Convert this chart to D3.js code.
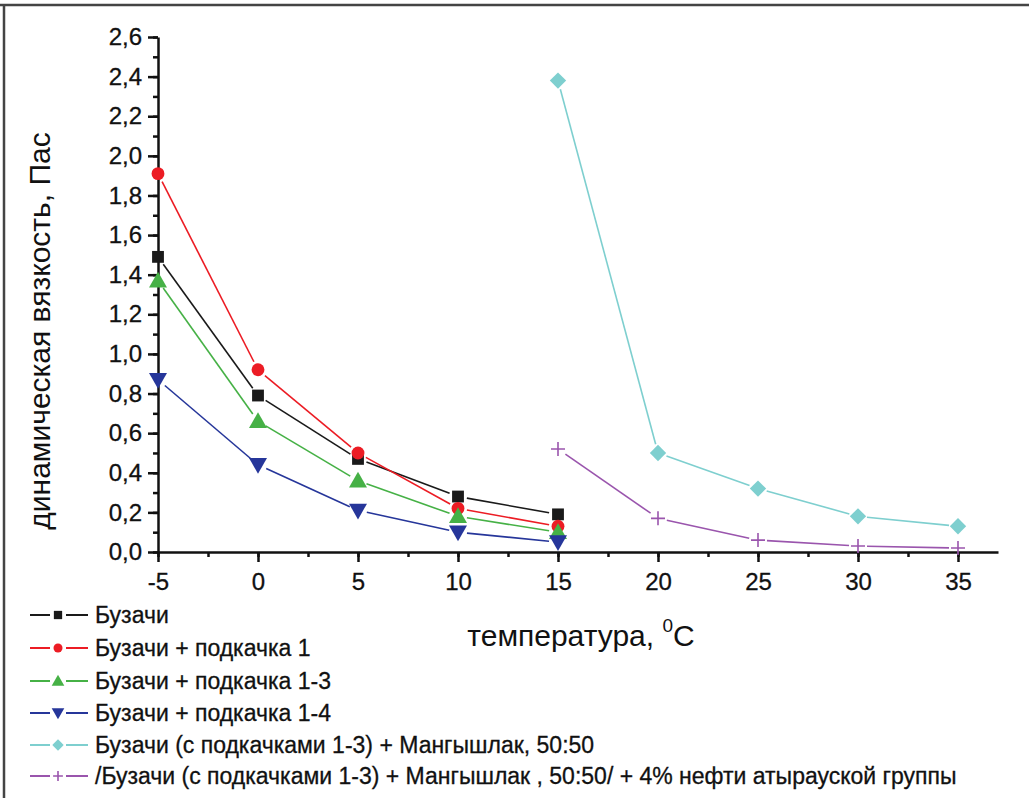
<!DOCTYPE html>
<html>
<head>
<meta charset="utf-8">
<script src="https://cdn.jsdelivr.net/npm/d3@7"></script>
<style>
  body { margin: 0; background: #fff; }
  svg { display: block; font-family: Arial, 'Liberation Sans', sans-serif; }
</style>
</head>
<body>
<div id="chart"></div>
<script>
const temps = [-5, 0, 5, 10, 15];
const tempsHot = [15, 20, 25, 30, 35];
const buzachi = [1.49, 0.79, 0.47, 0.28, 0.19];
const pump1 = [1.91, 0.92, 0.50, 0.22, 0.13];
const pump13 = [1.37, 0.66, 0.36, 0.18, 0.10];
const pump14 = [0.87, 0.44, 0.21, 0.10, 0.05];
const mangyshlak = [2.38, 0.50, 0.32, 0.18, 0.13];
const atyrau = [0.52, 0.17, 0.06, 0.03, 0.02];
const xTicks = [-5, 0, 5, 10, 15, 20, 25, 30, 35];
const yTicks = [0, 0.2, 0.4, 0.6, 0.8, 1.0, 1.2, 1.4, 1.6, 1.8, 2.0, 2.2, 2.4, 2.6];

const series = [
  {name: 'Бузачи', x: temps, y: buzachi, color: '#1a1a1a', sym: d3.symbolSquare, size: 140},
  {name: 'Бузачи + подкачка 1', x: temps, y: pump1, color: '#ec1c24', sym: d3.symbolCircle, size: 130},
  {name: 'Бузачи + подкачка 1-3', x: temps, y: pump13, color: '#46b146', sym: 'up', size: 160},
  {name: 'Бузачи + подкачка 1-4', x: temps, y: pump14, color: '#26369a', sym: 'down', size: 160},
  {name: 'Бузачи (с подкачками 1-3) + Мангышлак, 50:50', x: tempsHot, y: mangyshlak, color: '#7ecfcf', sym: d3.symbolDiamond2, size: 170},
  {name: '/Бузачи (с подкачками 1-3) + Мангышлак , 50:50/ + 4% нефти атырауской группы', x: tempsHot, y: atyrau, color: '#9a55ad', sym: 'plus', size: 0}
];

const W = 1029, H = 798;
const svg = d3.select('#chart').append('svg').attr('width', W).attr('height', H);

// frame (top and left only)
svg.append('line').attr('x1', 0).attr('x2', W).attr('y1', 5).attr('y2', 5)
  .attr('stroke', '#444').attr('stroke-width', 2.5);
svg.append('line').attr('x1', 4).attr('x2', 4).attr('y1', 5).attr('y2', H)
  .attr('stroke', '#444').attr('stroke-width', 2.5);

const x = d3.scaleLinear().domain([-5, 37]).range([158, 998]);
const y = d3.scaleLinear().domain([0, 2.6]).range([552, 37]);

// axes
const xAxis = svg.append('g').attr('transform', 'translate(0,552)');
xAxis.call(d3.axisBottom(x).tickValues(d3.range(-5, 37, 2.5)).tickSize(5).tickFormat(''))
  .call(g => g.select('.domain').remove());
xAxis.call(g => g.append('g').call(d3.axisBottom(x).tickValues(xTicks).tickSize(10).tickPadding(11)
  .tickSizeOuter(0).tickFormat(d => String(d))));
xAxis.selectAll('line').attr('stroke', '#111').attr('stroke-width', 2.5);
xAxis.selectAll('.domain').attr('stroke', '#111').attr('stroke-width', 2.5);
xAxis.selectAll('text').attr('font-size', 24).attr('fill', '#111').attr('stroke', '#111').attr('stroke-width', 0.3)
  .attr('font-family', 'Arial, Liberation Sans');

const fmt = d => d.toFixed(1).replace('.', ',');
const yAxis = svg.append('g').attr('transform', 'translate(158,0)');
yAxis.call(d3.axisLeft(y).tickValues(d3.range(0, 2.61, 0.1)).tickSize(5).tickFormat(''))
  .call(g => g.select('.domain').remove());
yAxis.call(g => g.append('g').call(d3.axisLeft(y).tickValues(yTicks).tickSize(10).tickPadding(6).tickSizeOuter(0).tickFormat(fmt)));
yAxis.selectAll('line').attr('stroke', '#111').attr('stroke-width', 2.5);
yAxis.selectAll('.domain').attr('stroke', '#111').attr('stroke-width', 2.5);
yAxis.selectAll('text').attr('font-size', 24).attr('fill', '#111').attr('stroke', '#111').attr('stroke-width', 0.3)
  .attr('font-family', 'Arial, Liberation Sans');

function drawMarker(g, s, cx, cy, scale) {
  const k = scale || 1;
  if (s.sym === 'plus') {
    const r = 7 * k;
    g.append('path').attr('d', `M${cx - r},${cy}H${cx + r}M${cx},${cy - r}V${cy + r}`)
      .attr('stroke', s.color).attr('stroke-width', 1.6).attr('fill', 'none');
  } else if (s.sym === 'up' || s.sym === 'down') {
    const r = 9 * k, dir = s.sym === 'up' ? -1 : 1;
    const pts = [[cx, cy + dir * r], [cx - r, cy - dir * r * 0.75], [cx + r, cy - dir * r * 0.75]];
    g.append('path').attr('d', 'M' + pts.join('L') + 'Z').attr('fill', s.color);
  } else {
    g.append('path').attr('d', d3.symbol().type(s.sym).size(s.size * k * k)())
      .attr('transform', `translate(${cx},${cy})`).attr('fill', s.color);
  }
}

// series: segments shortened to leave a gap around markers
const gap = 9;
series.forEach(s => {
  const g = svg.append('g');
  const pts = s.x.map((t, i) => [x(t), y(s.y[i])]);
  for (let i = 0; i < pts.length - 1; i++) {
    const [x1, y1] = pts[i], [x2, y2] = pts[i + 1];
    const len = Math.hypot(x2 - x1, y2 - y1);
    const ux = (x2 - x1) / len, uy = (y2 - y1) / len;
    g.append('line')
      .attr('x1', x1 + ux * gap).attr('y1', y1 + uy * gap)
      .attr('x2', x2 - ux * gap).attr('y2', y2 - uy * gap)
      .attr('stroke', s.color).attr('stroke-width', 1.6);
  }
  pts.forEach(p => drawMarker(g, s, p[0], p[1]));
});

// axis titles
svg.append('text').attr('transform', 'translate(50,331) rotate(-90)')
  .attr('text-anchor', 'middle').attr('font-size', 30).attr('fill', '#111')
  .text('динамическая вязкость, Пас');

const xt = svg.append('text').attr('x', 581).attr('y', 646).attr('text-anchor', 'middle')
  .attr('font-size', 30).attr('fill', '#111');
xt.append('tspan').text('температура, ');
xt.append('tspan').attr('dy', -14).attr('font-size', 19).text('0');
xt.append('tspan').attr('dy', 14).text('C');

// legend
const legendY = [615, 648, 681, 713, 745, 776];
series.forEach((s, i) => {
  const g = svg.append('g');
  const ly = legendY[i];
  g.append('line').attr('x1', 30).attr('x2', 50).attr('y1', ly).attr('y2', ly).attr('stroke', s.color).attr('stroke-width', 2);
  g.append('line').attr('x1', 66).attr('x2', 88).attr('y1', ly).attr('y2', ly).attr('stroke', s.color).attr('stroke-width', 2);
  drawMarker(g, s, 58, ly, 0.7);
  g.append('text').attr('x', 95).attr('y', ly + 8).attr('font-size', 23).attr('fill', '#111')
    .attr('stroke', '#111').attr('stroke-width', 0.3)
    .text(s.name);
});
</script>
</body>
</html>
